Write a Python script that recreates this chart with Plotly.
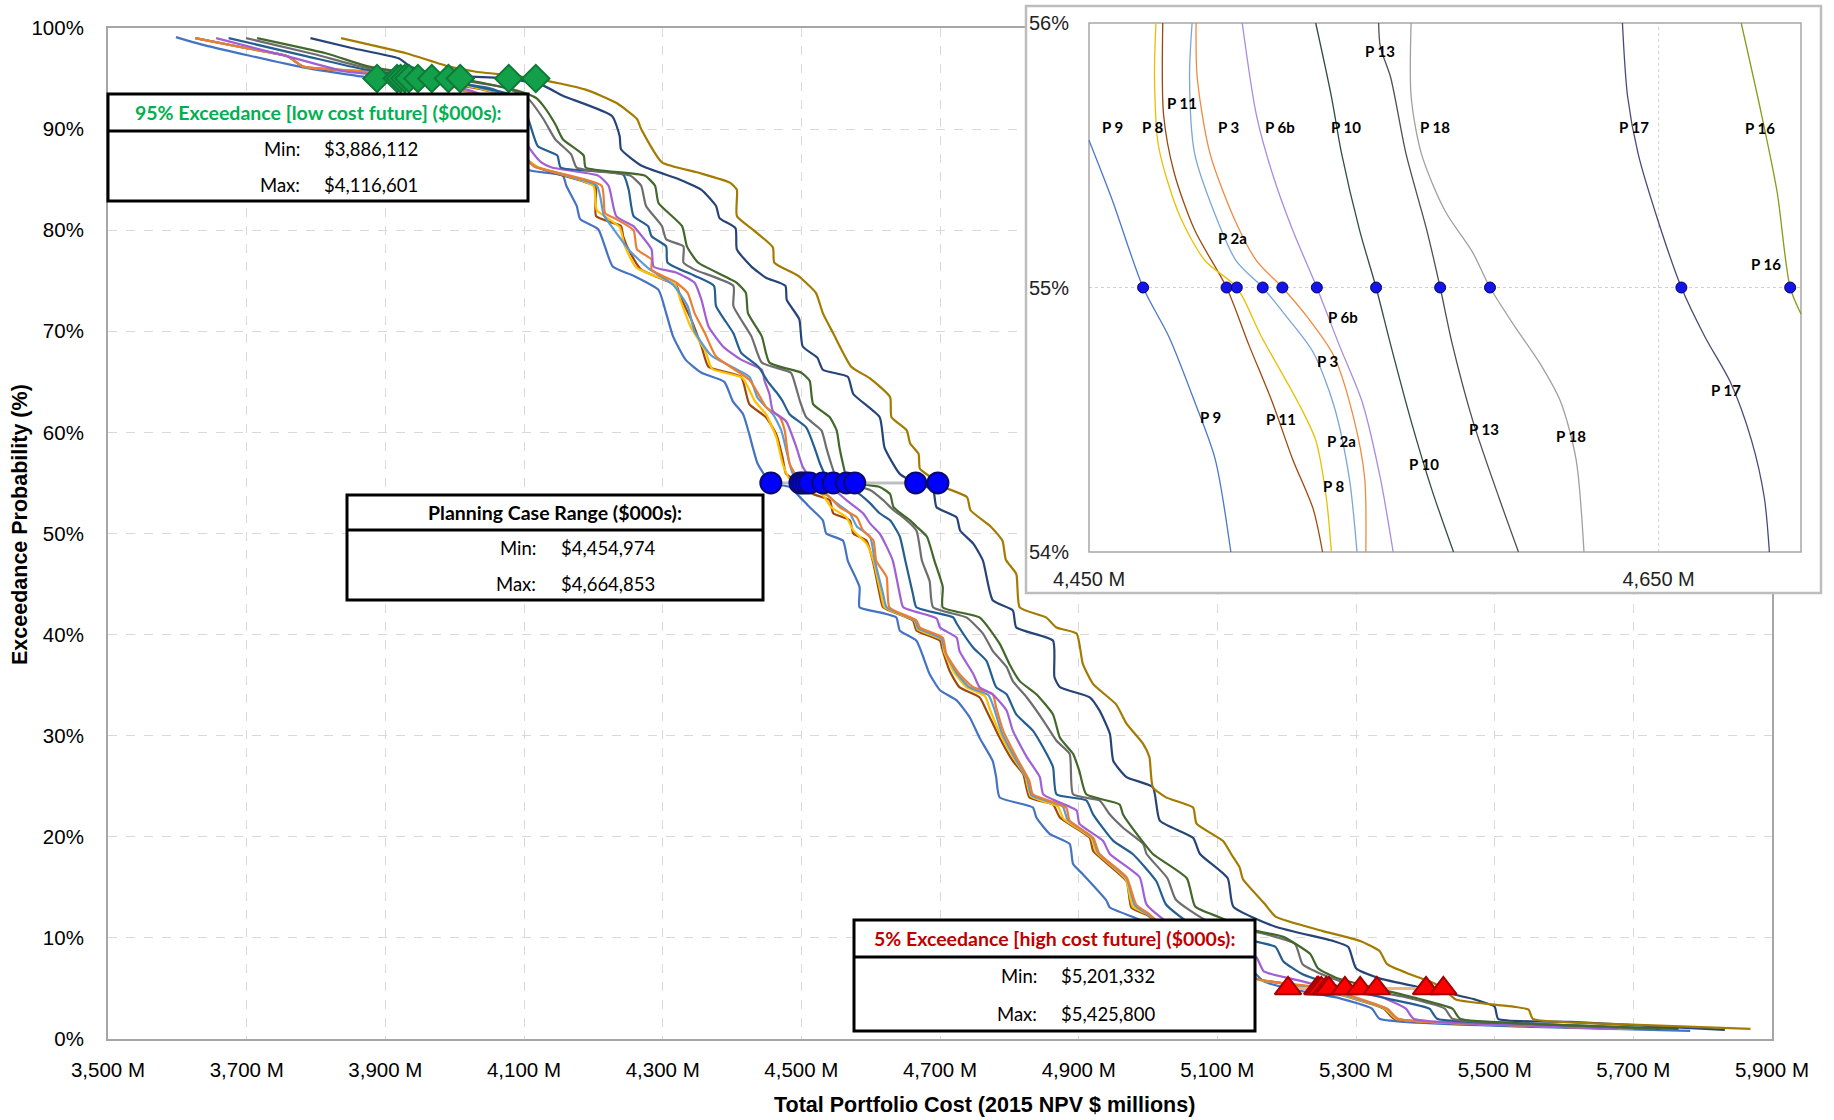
import plotly.graph_objects as go

# ------------------------------------------------------------------ data
plan_names = ["P 9", "P 11", "P 8", "P 2a", "P 3", "P 6b", "P 10", "P 13", "P 18", "P 17", "P 16"]
line_colors = ["#4472C4", "#9E480E", "#FFC000", "#5B9BD5", "#ED7D31", "#A05FD5",
               "#255E91", "#6E6E6E", "#43682B", "#264478", "#A37B00"]

# (total cost $M, exceedance probability %)
p9_curve = [(3598, 99.1), (3633, 98.4), (3781, 96.1), (3888, 95.0), (4018, 94.4), (4060, 93.8), (4100, 87.0),
            (4105, 86.0), (4156, 85.4), (4161, 84.4), (4176, 82.4), (4181, 81.1), (4207, 80.1), (4228, 76.4),
            (4258, 75.5), (4294, 74.1), (4305, 71.8), (4315, 69.5), (4333, 67.2), (4356, 65.9), (4389, 65.0),
            (4401, 63.1), (4416, 61.8), (4425, 59.8), (4430, 58.5), (4437, 56.9), (4456, 55.0), (4483, 54.6),
            (4498, 53.6), (4512, 52.6), (4531, 51.3), (4536, 50.0), (4560, 49.3), (4567, 47.3), (4584, 44.7),
            (4584, 42.7), (4613, 42.2), (4637, 41.7), (4642, 40.4), (4666, 39.4), (4685, 36.1), (4700, 34.5),
            (4724, 33.5), (4743, 31.8), (4757, 29.8), (4776, 27.5), (4781, 25.9), (4786, 23.9), (4834, 22.9),
            (4839, 21.9), (4858, 20.3), (4887, 19.3), (4892, 17.3), (4906, 16.3), (4940, 13.7), (4945, 13.0),
            (4988, 11.8), (5001, 11.1), (5057, 9.1), (5112, 7.7), (5151, 6.7), (5167, 5.7), (5202, 5.0),
            (5278, 4.0), (5323, 3.0), (5334, 2.0), (5555, 1.2), (5782, 0.8)]
p11_curve = [(3626, 99.0), (3700, 98.0), (3759, 97.2), (3781, 96.2), (3870, 95.6), (3917, 95.0), (3990, 94.5),
             (4060, 93.5), (4095, 90.0), (4105, 87.0), (4120, 86.2), (4202, 84.4), (4204, 84.0), (4204, 81.4),
             (4240, 80.4), (4243, 79.4), (4253, 77.8), (4269, 76.1), (4320, 74.5), (4325, 73.5), (4341, 71.2),
             (4356, 68.5), (4366, 66.5), (4413, 65.5), (4425, 62.8), (4449, 61.5), (4464, 59.8), (4473, 57.5),
             (4478, 55.9), (4498, 55.0), (4517, 53.9), (4541, 53.3), (4546, 52.0), (4570, 51.3), (4575, 50.0),
             (4594, 49.3), (4603, 47.3), (4613, 44.0), (4618, 42.7), (4661, 41.4), (4666, 40.4), (4700, 39.4),
             (4704, 38.4), (4714, 36.4), (4728, 34.8), (4757, 33.8), (4767, 32.5), (4786, 29.8), (4805, 27.5),
             (4820, 26.2), (4829, 23.9), (4863, 23.2), (4873, 21.9), (4916, 19.9), (4921, 18.6), (4969, 15.6),
             (4976, 13.0), (5000, 12.2), (5030, 10.5), (5095, 8.8), (5140, 7.5), (5150, 6.1), (5244, 5.0),
             (5340, 3.0), (5355, 2.0), (5555, 1.3), (5680, 1.0)]
p8_curve = [(3626, 99.0), (3700, 98.0), (3759, 97.2), (3781, 96.2), (3870, 95.7), (3922, 95.0), (3990, 94.6),
            (4060, 93.5), (4095, 90.0), (4105, 87.0), (4118, 86.3), (4200, 84.4), (4205, 82.0), (4238, 80.3),
            (4245, 78.5), (4262, 76.3), (4318, 74.6), (4326, 73.0), (4340, 70.5), (4362, 68.0), (4371, 66.3),
            (4415, 65.4), (4433, 63.1), (4449, 61.8), (4464, 59.5), (4473, 56.9), (4483, 55.4), (4502, 55.0),
            (4531, 53.8), (4543, 52.6), (4565, 51.6), (4575, 50.3), (4594, 49.0), (4604, 47.3), (4615, 44.0),
            (4620, 42.7), (4663, 41.4), (4668, 40.5), (4702, 39.5), (4706, 38.3), (4720, 36.3), (4738, 34.8),
            (4765, 33.9), (4772, 32.6), (4788, 30.0), (4807, 27.7), (4823, 26.0), (4831, 24.0), (4870, 23.0),
            (4878, 21.8), (4918, 19.9), (4925, 18.5), (4968, 15.8), (4978, 13.1), (5000, 12.3), (5032, 10.4),
            (5098, 8.7), (5143, 7.4), (5153, 6.0), (5246, 5.0), (5342, 3.0), (5358, 2.0), (5555, 1.3), (5690, 1.0)]
p2a_curve = [(3626, 99.0), (3700, 98.0), (3759, 97.2), (3781, 96.2), (3870, 95.7), (3928, 95.0), (3990, 94.7),
             (4060, 93.6), (4095, 90.0), (4105, 87.0), (4115, 86.3), (4205, 84.4), (4215, 81.5), (4225, 80.5),
             (4252, 78.0), (4280, 76.2), (4315, 74.6), (4336, 72.5), (4346, 70.0), (4370, 67.6), (4425, 65.5),
             (4437, 63.4), (4459, 61.8), (4471, 60.2), (4481, 57.5), (4488, 55.9), (4512, 55.0), (4536, 53.9),
             (4551, 53.0), (4570, 52.0), (4580, 50.7), (4599, 49.7), (4606, 47.3), (4618, 44.0), (4623, 42.7),
             (4664, 41.4), (4669, 40.6), (4702, 39.6), (4708, 38.2), (4724, 36.2), (4742, 34.8), (4770, 34.0),
             (4778, 32.7), (4789, 30.3), (4808, 27.8), (4826, 25.7), (4832, 24.1), (4877, 23.0), (4884, 21.7),
             (4920, 19.9), (4928, 18.4), (4969, 15.9), (4981, 13.2), (5001, 12.3), (5034, 10.4), (5100, 8.7),
             (5144, 7.4), (5155, 6.0), (5250, 5.0), (5344, 3.0), (5360, 2.0), (5555, 1.3), (5700, 1.0)]
p3_curve = [(3626, 99.0), (3700, 98.0), (3759, 97.2), (3781, 96.2), (3870, 95.7), (3934, 95.0), (3985, 94.8),
            (4007, 93.9), (4060, 93.0), (4095, 90.0), (4105, 87.0), (4115, 86.3), (4212, 84.4), (4217, 81.7),
            (4233, 81.1), (4258, 80.0), (4263, 78.1), (4284, 77.1), (4284, 76.1), (4320, 74.8), (4336, 73.8),
            (4346, 71.8), (4361, 69.8), (4377, 67.5), (4425, 65.2), (4443, 63.2), (4449, 62.5), (4469, 61.5),
            (4476, 60.2), (4483, 56.9), (4498, 55.2), (4507, 55.0), (4517, 54.6), (4541, 53.6), (4555, 52.6),
            (4580, 51.6), (4589, 50.3), (4604, 49.3), (4608, 47.3), (4623, 45.7), (4627, 42.7), (4666, 41.4),
            (4671, 40.7), (4704, 39.7), (4709, 38.1), (4728, 36.1), (4748, 34.8), (4776, 34.1), (4781, 32.8),
            (4791, 30.5), (4810, 27.9), (4829, 25.5), (4834, 24.2), (4882, 22.9), (4887, 21.6), (4921, 19.9),
            (4930, 18.3), (4969, 16.0), (4983, 13.3), (5001, 12.4), (5035, 10.4), (5101, 8.7), (5145, 7.4),
            (5156, 6.0), (5257, 5.0), (5345, 3.0), (5361, 2.0), (5555, 1.3), (5693, 1.0)]
p6b_curve = [(3656, 99.0), (3770, 97.0), (3842, 95.7), (3947, 95.0), (4018, 93.9), (4085, 92.0), (4100, 89.0),
             (4109, 88.0), (4125, 86.7), (4140, 86.2), (4207, 85.4), (4222, 84.4), (4233, 81.4), (4258, 80.4),
             (4263, 80.0), (4284, 78.1), (4287, 76.4), (4320, 75.8), (4346, 74.8), (4356, 73.1), (4366, 70.5),
             (4387, 68.5), (4413, 67.2), (4443, 66.2), (4447, 65.1), (4454, 63.8), (4459, 62.1), (4478, 61.1),
             (4493, 58.5), (4502, 56.6), (4517, 55.2), (4531, 55.0), (4555, 53.9), (4565, 53.3), (4589, 52.0),
             (4599, 51.0), (4613, 50.0), (4623, 48.7), (4632, 47.3), (4642, 44.0), (4647, 42.7), (4695, 41.6),
             (4700, 40.7), (4724, 39.7), (4728, 38.4), (4748, 36.1), (4757, 34.8), (4776, 34.1), (4796, 32.5),
             (4805, 30.5), (4825, 27.9), (4844, 25.9), (4849, 24.2), (4897, 22.6), (4901, 21.3), (4935, 19.6),
             (4945, 18.3), (4988, 16.0), (4998, 13.3), (5046, 10.7), (5112, 9.1), (5156, 8.1), (5167, 6.7),
             (5223, 5.7), (5261, 5.0), (5334, 4.2), (5372, 3.0), (5383, 2.0), (5555, 1.3), (5677, 1.0)]
p10_curve = [(3674, 99.0), (3787, 97.2), (3870, 95.9), (3967, 95.0), (4018, 94.4), (4084, 93.3), (4106, 91.0),
             (4120, 88.3), (4148, 87.4), (4153, 86.2), (4243, 85.5), (4251, 84.0), (4258, 81.4), (4279, 80.4),
             (4284, 79.4), (4305, 78.4), (4307, 76.8), (4346, 75.5), (4374, 74.5), (4377, 72.5), (4402, 69.8),
             (4413, 67.9), (4438, 66.5), (4452, 65.0), (4466, 63.8), (4473, 63.1), (4483, 61.8), (4507, 60.5),
             (4519, 58.5), (4527, 56.9), (4536, 55.6), (4546, 55.0), (4570, 54.5), (4584, 53.9), (4599, 53.0),
             (4613, 52.0), (4628, 51.3), (4642, 49.7), (4650, 47.3), (4661, 44.0), (4666, 42.7), (4719, 41.7),
             (4724, 41.1), (4748, 38.7), (4767, 37.4), (4781, 34.8), (4796, 34.1), (4810, 32.1), (4834, 30.5),
             (4849, 28.8), (4863, 26.9), (4868, 24.2), (4911, 23.6), (4921, 22.2), (4950, 19.6), (4978, 18.3),
             (5012, 15.6), (5026, 13.3), (5068, 11.1), (5151, 9.7), (5184, 9.1), (5195, 7.7), (5223, 6.4),
             (5284, 5.0), (5345, 4.0), (5406, 3.0), (5417, 2.0), (5555, 1.5), (5738, 1.0)]
p13_curve = [(3699, 99.0), (3798, 97.4), (3870, 96.1), (3991, 95.0), (4073, 94.1), (4106, 93.0), (4128, 91.0),
             (4145, 89.0), (4168, 87.5), (4176, 86.2), (4253, 85.4), (4269, 84.4), (4276, 82.4), (4299, 80.4),
             (4305, 79.1), (4330, 78.4), (4330, 76.8), (4346, 76.1), (4402, 74.5), (4402, 72.5), (4428, 69.5),
             (4443, 66.9), (4485, 65.9), (4490, 65.0), (4498, 63.1), (4507, 61.5), (4529, 60.2), (4536, 58.5),
             (4543, 56.9), (4550, 55.6), (4565, 55.0), (4599, 54.3), (4618, 53.3), (4633, 52.3), (4647, 51.6),
             (4666, 50.3), (4674, 47.3), (4685, 45.3), (4690, 42.7), (4738, 41.7), (4762, 40.1), (4776, 38.4),
             (4796, 36.8), (4805, 35.4), (4825, 33.8), (4849, 31.5), (4868, 29.5), (4887, 28.2), (4892, 24.2),
             (4930, 23.6), (4945, 22.2), (4964, 20.9), (4993, 19.3), (4998, 18.3), (5028, 15.9), (5040, 13.8),
             (5085, 11.7), (5156, 10.6), (5212, 9.4), (5223, 7.4), (5251, 6.4), (5306, 5.0), (5367, 4.2),
             (5428, 3.0), (5439, 2.0), (5555, 1.5), (5732, 1.0)]
p18_curve = [(3715, 99.0), (3814, 97.5), (3875, 96.2), (3919, 95.7), (4008, 95.0), (4090, 93.8), (4117, 93.1),
             (4128, 92.3), (4145, 90.5), (4156, 89.0), (4186, 87.4), (4189, 86.2), (4274, 85.4), (4289, 84.4),
             (4294, 82.7), (4328, 80.4), (4335, 78.4), (4351, 76.8), (4407, 74.8), (4420, 73.8), (4423, 71.8),
             (4443, 69.5), (4454, 66.9), (4500, 65.9), (4512, 65.1), (4517, 62.8), (4541, 61.5), (4551, 60.2),
             (4555, 58.5), (4560, 56.9), (4565, 55.6), (4577, 55.0), (4613, 54.6), (4628, 53.9), (4633, 52.6),
             (4657, 51.3), (4666, 50.7), (4681, 49.7), (4692, 47.3), (4704, 44.7), (4704, 42.7), (4757, 41.7),
             (4786, 39.1), (4800, 37.1), (4815, 35.4), (4839, 34.1), (4863, 32.1), (4873, 29.8), (4892, 28.2),
             (4901, 26.5), (4911, 24.2), (4959, 23.2), (4964, 22.2), (4988, 19.9), (5007, 18.3), (5056, 15.9),
             (5068, 13.1), (5101, 12.1), (5156, 10.7), (5195, 10.1), (5234, 8.4), (5245, 7.0), (5273, 6.0),
             (5330, 5.0), (5389, 4.0), (5439, 3.0), (5450, 2.0), (5555, 1.5), (5765, 1.0)]
p17_curve = [(3792, 99.0), (3853, 98.0), (3919, 97.0), (3936, 96.2), (3974, 95.4), (4078, 95.0), (4128, 94.3),
             (4156, 93.3), (4227, 91.3), (4238, 89.3), (4240, 88.0), (4269, 86.4), (4325, 85.0), (4356, 84.0),
             (4377, 82.4), (4382, 81.2), (4405, 80.2), (4407, 78.1), (4428, 76.4), (4449, 75.3), (4477, 74.5),
             (4479, 73.1), (4497, 71.2), (4502, 68.5), (4523, 67.4), (4531, 66.2), (4567, 65.5), (4575, 63.8),
             (4613, 61.5), (4620, 58.5), (4642, 55.9), (4665, 55.0), (4690, 54.3), (4695, 52.6), (4724, 51.6),
             (4729, 50.3), (4748, 49.0), (4762, 47.3), (4776, 43.4), (4805, 42.4), (4810, 40.7), (4863, 39.4),
             (4865, 35.8), (4873, 34.8), (4916, 33.8), (4930, 32.5), (4945, 30.2), (4950, 27.5), (4969, 25.9),
             (5007, 24.9), (5017, 21.6), (5065, 19.9), (5075, 18.3), (5115, 15.9), (5123, 13.1), (5184, 11.1),
             (5267, 9.7), (5289, 9.1), (5300, 7.0), (5334, 6.0), (5401, 5.0), (5472, 3.9), (5500, 3.2),
             (5505, 2.0), (5610, 1.7), (5832, 0.9)]
p16_curve = [(3836, 99.0), (3930, 97.5), (3991, 96.2), (4029, 95.7), (4117, 95.0), (4189, 93.9), (4233, 92.6),
             (4263, 91.0), (4269, 90.0), (4299, 86.7), (4351, 85.7), (4397, 84.7), (4407, 84.0), (4407, 81.4),
             (4431, 80.0), (4459, 78.3), (4461, 76.8), (4495, 75.5), (4521, 73.8), (4531, 71.8), (4546, 69.8),
             (4572, 66.5), (4600, 65.3), (4628, 63.5), (4630, 61.5), (4652, 60.2), (4657, 58.9), (4669, 57.9),
             (4671, 56.4), (4686, 55.6), (4697, 55.0), (4705, 54.6), (4739, 53.6), (4744, 52.3), (4773, 50.7),
             (4790, 49.3), (4795, 47.4), (4810, 46.0), (4815, 42.7), (4853, 41.7), (4868, 40.7), (4897, 40.1),
             (4906, 37.1), (4921, 35.1), (4954, 33.1), (4969, 31.2), (4993, 29.2), (5002, 27.9), (5007, 24.9),
             (5026, 23.9), (5065, 22.9), (5070, 21.3), (5108, 19.6), (5120, 18.3), (5132, 17.0), (5137, 15.8),
             (5168, 13.4), (5184, 12.1), (5251, 10.7), (5306, 9.7), (5334, 8.7), (5345, 7.4), (5378, 6.4),
             (5410, 5.6), (5426, 5.0), (5444, 3.9), (5527, 3.2), (5549, 2.9), (5555, 2.0), (5666, 1.5),
             (5869, 1.0)]
main_curves = [p9_curve, p11_curve, p8_curve, p2a_curve, p3_curve, p6b_curve,
               p10_curve, p13_curve, p18_curve, p17_curve, p16_curve]

# marker points (cost at 95 %, 55 %, 5 % exceedance), same plan order
low95_cost = [3888, 3917, 3922, 3928, 3934, 3947, 3967, 3991, 4008, 4078, 4117]
mid55_cost = [4456, 4498, 4502, 4512, 4507, 4531, 4546, 4565, 4577, 4665, 4697]
high5_cost = [5202, 5244, 5246, 5250, 5257, 5261, 5284, 5306, 5330, 5401, 5426]
low95_level, mid55_level, high5_level = 95, 55, 5

box_low = ["95% Exceedance [low cost future] ($000s):", "$3,886,112", "$4,116,601"]
box_mid = ["Planning Case Range ($000s):", "$4,454,974", "$4,664,853"]
box_high = ["5% Exceedance [high cost future] ($000s):", "$5,201,332", "$5,425,800"]

x_title = "Total Portfolio Cost (2015 NPV $ millions)"
y_title = "Exceedance Probability (%)"
x_ticks = [3500, 3700, 3900, 4100, 4300, 4500, 4700, 4900, 5100, 5300, 5500, 5700, 5900]
y_ticks = [0, 10, 20, 30, 40, 50, 60, 70, 80, 90, 100]

# inset (zoom on 54 %-56 %)
inset_colors = ["#4A78C8", "#9E480E", "#E8C000", "#7AA6D8", "#F08A40", "#A98BE0",
                "#2F4F3F", "#505050", "#A0A0A0", "#4A4A7A", "#8A9A1A"]
i_p9 = [(4450.0, 55.557), (4458.1, 55.333), (4469.0, 55.0), (4478.1, 54.813), (4487.1, 54.568),
        (4494.3, 54.351), (4499.8, 54.0)]
i_p11 = [(4475.9, 56.0), (4476.2, 55.651), (4479.9, 55.434), (4487.1, 55.217), (4498.3, 55.0),
         (4506.1, 54.784), (4514.3, 54.568), (4521.5, 54.351), (4528.7, 54.163), (4532.0, 54.0)]
i_p8 = [(4473.5, 56.0), (4473.0, 55.795), (4474.4, 55.535), (4481.7, 55.275), (4490.7, 55.102),
        (4501.9, 55.0), (4510.6, 54.813), (4523.3, 54.568), (4529.6, 54.423), (4533.3, 54.207), (4535.1, 54.0)]
i_p2a = [(4486.2, 56.0), (4485.3, 55.795), (4487.1, 55.506), (4494.3, 55.275), (4501.6, 55.102),
         (4511.0, 55.0), (4519.7, 54.885), (4528.7, 54.755), (4536.0, 54.553), (4541.4, 54.279), (4544.1, 54.0)]
i_p3 = [(4487.6, 56.0), (4488.0, 55.795), (4492.5, 55.506), (4501.6, 55.246), (4508.8, 55.102),
        (4517.9, 55.0), (4526.9, 54.885), (4536.0, 54.741), (4543.2, 54.495), (4546.8, 54.279), (4547.2, 54.0)]
i_p6b = [(4503.8, 56.0), (4508.8, 55.651), (4514.3, 55.434), (4521.5, 55.217), (4530.0, 55.0),
         (4537.8, 54.784), (4545.9, 54.568), (4552.3, 54.279), (4556.8, 54.0)]
i_p10 = [(4529.6, 56.0), (4535.1, 55.723), (4538.7, 55.506), (4545.0, 55.217), (4550.8, 55.0),
         (4555.9, 54.784), (4563.1, 54.495), (4570.4, 54.235), (4578.0, 54.0)]
i_p13 = [(4551.7, 56.0), (4552.3, 55.910), (4555.9, 55.795), (4561.3, 55.506), (4568.6, 55.217),
         (4573.3, 55.0), (4577.6, 54.784), (4584.8, 54.495), (4593.9, 54.207), (4600.8, 54.0)]
i_p18 = [(4563.1, 56.0), (4563.1, 55.723), (4566.7, 55.506), (4575.0, 55.290), (4584.8, 55.131),
         (4590.8, 55.0), (4599.3, 54.856), (4608.4, 54.712), (4615.6, 54.568), (4621.0, 54.351), (4623.8, 54.0)]
i_p17 = [(4637.3, 56.0), (4639.1, 55.723), (4642.8, 55.506), (4650.0, 55.246), (4658.0, 55.0),
         (4666.3, 54.813), (4675.3, 54.640), (4682.6, 54.423), (4687.1, 54.207), (4688.9, 54.0)]
i_p16 = [(4679.0, 56.0), (4686.2, 55.651), (4691.6, 55.362), (4696.2, 55.0), (4700.0, 54.90)]
inset_curves = [i_p9, i_p11, i_p8, i_p2a, i_p3, i_p6b, i_p10, i_p13, i_p18, i_p17, i_p16]
inset_dot55 = [4469.0, 4498.3, 4501.9, 4511.0, 4517.9, 4530.0, 4550.8, 4573.3, 4590.8, 4658.0, 4696.2]

inset_label_text = ["P 9", "P 8", "P 3", "P 6b", "P 10", "P 18", "P 17", "P 16", "P 11", "P 13", "P 2a",
                    "P 16", "P 6b", "P 3", "P 17", "P 9", "P 11", "P 2a", "P 13", "P 18", "P 10", "P 8"]
inset_label_cost = [4458.1, 4472.3, 4499.1, 4516.9, 4540.4, 4571.6, 4641.4, 4685.6, 4482.8, 4552.2, 4500.3,
                    4687.6, 4539.2, 4533.9, 4673.8, 4492.6, 4517.3, 4538.8, 4588.7, 4619.1, 4567.6, 4536.0]
inset_label_prob = [55.606, 55.606, 55.606, 55.606, 55.606, 55.606, 55.606, 55.602, 55.699, 55.894, 55.186,
                    55.088, 54.889, 54.721, 54.611, 54.509, 54.504, 54.420, 54.465, 54.438, 54.332, 54.248]
inset_x_ticks = [4450, 4650]
inset_y_ticks = [54, 55, 56]
inset_x_lo, inset_x_hi = 4450, 4700
inset_y_lo, inset_y_hi = 54, 56

# tick label texts derived from the tick values
x_tick_text = [f"{v:,} M" for v in x_ticks]
y_tick_text = [f"{v}%" for v in y_ticks]
inset_x_tick_text = [f"{v:,} M" for v in inset_x_ticks]
inset_y_tick_text = [f"{v}%" for v in inset_y_ticks]

# ------------------------------------------------------------------ layout geometry (pixels)
FIG_W, FIG_H = 1834, 1120
ML, MR, MT, MB = 108, 10, 5, 81
PW = FIG_W - ML - MR
PH = FIG_H - MT - MB


def px(x):
    return (x - ML) / PW


def py(y):
    return (FIG_H - MB - y) / PH


MAIN_R, MAIN_T = 1772, 28
IN_L, IN_R, IN_T, IN_B = 1026, 1821, 6, 593      # inset outer box
AP_L, AP_R, AP_T, AP_B = 1089, 1801, 23, 552     # inset plotting frame
kx = (AP_R - AP_L) / (inset_x_hi - inset_x_lo)
ky = (AP_B - AP_T) / (inset_y_hi - inset_y_lo)
x2range = [inset_x_lo - (AP_L - IN_L) / kx, inset_x_hi + (IN_R - AP_R) / kx]
y2range = [inset_y_lo - (IN_B - AP_B) / ky, inset_y_hi + (AP_T - IN_T) / ky]

FONT_AX = "Liberation Sans, Arial, sans-serif"
FONT_BOX = "Lato, Open Sans, sans-serif"

fig = go.Figure()

# main curves
for name, curve, col in zip(plan_names, main_curves, line_colors):
    fig.add_trace(go.Scatter(
        x=[c for c, p in curve], y=[p for c, p in curve], mode="lines", name=name,
        line=dict(color=col, width=2.2, shape="spline", smoothing=0.5),
        xaxis="x", yaxis="y", hoverinfo="skip"))

# marker series
fig.add_trace(go.Scatter(
    x=low95_cost, y=[low95_level] * len(low95_cost), mode="markers",
    marker=dict(symbol="diamond", size=21, color="#12A14A", line=dict(color="#0E7A37", width=2)),
    xaxis="x", yaxis="y", hoverinfo="skip"))
mid_sorted = sorted(mid55_cost)
fig.add_trace(go.Scatter(
    x=mid_sorted, y=[mid55_level] * len(mid_sorted), mode="lines+markers",
    line=dict(color="#BFBFBF", width=3),
    marker=dict(symbol="circle", size=21, color="#0000FF", line=dict(color="#0A0A6E", width=2)),
    xaxis="x", yaxis="y", hoverinfo="skip"))
high_sorted = sorted(high5_cost)
fig.add_trace(go.Scatter(
    x=high_sorted, y=[high5_level] * len(high_sorted), mode="lines+markers",
    line=dict(color="#F4B183", width=3),
    marker=dict(symbol="triangle-up", size=23, color="#FF0000", line=dict(color="#A50000", width=2)),
    xaxis="x", yaxis="y", hoverinfo="skip"))

# inset curves
for name, curve, col in zip(plan_names, inset_curves, inset_colors):
    fig.add_trace(go.Scatter(
        x=[c for c, p in curve], y=[p for c, p in curve], mode="lines",
        line=dict(color=col, width=1.3, shape="spline", smoothing=0.8),
        xaxis="x2", yaxis="y2", hoverinfo="skip"))
fig.add_trace(go.Scatter(
    x=inset_dot55, y=[mid55_level] * len(inset_dot55), mode="markers",
    marker=dict(size=11, color="#1414E6", line=dict(color="#00006E", width=1)),
    xaxis="x2", yaxis="y2", hoverinfo="skip"))

shapes = []
# inset background & frame
shapes.append(dict(type="rect", xref="x2", yref="y2", layer="below",
                   x0=x2range[0], x1=x2range[1], y0=y2range[0], y1=y2range[1],
                   fillcolor="white", line=dict(width=0)))
shapes.append(dict(type="line", xref="x2", yref="y2", layer="below",
                   x0=inset_x_lo, x1=inset_x_hi, y0=inset_y_ticks[1], y1=inset_y_ticks[1],
                   line=dict(color="#D0D0D0", width=1, dash="dot")))
shapes.append(dict(type="line", xref="x2", yref="y2", layer="below",
                   x0=inset_x_ticks[1], x1=inset_x_ticks[1], y0=inset_y_lo, y1=inset_y_hi,
                   line=dict(color="#D0D0D0", width=1, dash="dot")))
shapes.append(dict(type="rect", xref="x2", yref="y2", layer="below",
                   x0=inset_x_lo, x1=inset_x_hi, y0=inset_y_lo, y1=inset_y_hi,
                   line=dict(color="#A6A6A6", width=1.5), fillcolor="rgba(0,0,0,0)"))
shapes.append(dict(type="rect", xref="paper", yref="paper", layer="above",
                   x0=px(IN_L), x1=px(IN_R), y0=py(IN_B), y1=py(IN_T),
                   line=dict(color="#BDBDBD", width=2.5), fillcolor="rgba(0,0,0,0)"))

annotations = []


def add_box(x0, x1, top, mid, bottom, lab_r, val_l, texts, head_color):
    shapes.append(dict(type="rect", xref="paper", yref="paper", layer="above",
                       x0=px(x0), x1=px(x1), y0=py(bottom), y1=py(top),
                       fillcolor="white", line=dict(color="black", width=3)))
    shapes.append(dict(type="line", xref="paper", yref="paper", layer="above",
                       x0=px(x0), x1=px(x1), y0=py(mid), y1=py(mid),
                       line=dict(color="black", width=3)))
    annotations.append(dict(xref="paper", yref="paper", x=px((x0 + x1) / 2), y=py((top + mid) / 2),
                            text="<b>" + texts[0] + "</b>", showarrow=False,
                            font=dict(family=FONT_BOX, size=19.5, color=head_color),
                            xanchor="center", yanchor="middle"))
    rows = [mid + (bottom - mid) * 0.26, mid + (bottom - mid) * 0.77]
    for lab, val, yy in zip(["Min:", "Max:"], texts[1:], rows):
        annotations.append(dict(xref="paper", yref="paper", x=px(lab_r), y=py(yy), text=lab,
                                showarrow=False, font=dict(family=FONT_BOX, size=18.5, color="black"),
                                xanchor="right", yanchor="middle"))
        annotations.append(dict(xref="paper", yref="paper", x=px(val_l), y=py(yy), text=val,
                                showarrow=False, font=dict(family=FONT_BOX, size=18.5, color="black"),
                                xanchor="left", yanchor="middle"))


add_box(108, 528, 94, 131, 201, 302, 322, box_low, "#00B050")
add_box(347, 763, 495, 530, 600, 538, 559, box_mid, "black")
add_box(854, 1255, 920, 957, 1031, 1039, 1059, box_high, "#C00000")

for t, xv, yv in zip(inset_label_text, inset_label_cost, inset_label_prob):
    annotations.append(dict(xref="x2", yref="y2", x=xv, y=yv, text="<b>" + t + "</b>", showarrow=False,
                            font=dict(family=FONT_BOX, size=15, color="black"),
                            xanchor="center", yanchor="middle"))

# axis titles (placed as in the reference, slightly off-centre)
annotations.append(dict(xref="paper", yref="paper", x=px(984), y=py(1105), text="<b>" + x_title + "</b>",
                        showarrow=False, font=dict(family=FONT_AX, size=21.5, color="black"),
                        xanchor="center", yanchor="middle"))
annotations.append(dict(xref="paper", yref="paper", x=px(20), y=py(525), text="<b>" + y_title + "</b>",
                        showarrow=False, textangle=-90, font=dict(family=FONT_AX, size=21.5, color="black"),
                        xanchor="center", yanchor="middle"))

fig.update_layout(
    width=FIG_W, height=FIG_H,
    margin=dict(l=ML, r=MR, t=MT, b=MB, autoexpand=False),
    paper_bgcolor="white", plot_bgcolor="white",
    showlegend=False,
    shapes=shapes, annotations=annotations,
    xaxis=dict(domain=[0, px(MAIN_R)], range=[3500, 5900], tickmode="array",
               tickvals=x_ticks, ticktext=x_tick_text, automargin=False,
               showgrid=True, gridcolor="#D9D9D9", griddash="dash", gridwidth=1,
               showline=True, linecolor="#A6A6A6", linewidth=2, mirror=True, zeroline=False,
               ticks="outside", ticklen=11, tickcolor="rgba(0,0,0,0)",
               tickfont=dict(family=FONT_AX, size=20.5, color="black"),
               anchor="y"),
    yaxis=dict(domain=[0, py(MAIN_T)], range=[0, 100], tickmode="array",
               tickvals=y_ticks, ticktext=y_tick_text, automargin=False,
               showgrid=True, gridcolor="#D9D9D9", griddash="dash", gridwidth=1,
               showline=True, linecolor="#A6A6A6", linewidth=2, mirror=True, zeroline=False,
               ticks="outside", ticklen=18, tickcolor="rgba(0,0,0,0)",
               tickfont=dict(family=FONT_AX, size=20.5, color="black"),
               anchor="x"),
    xaxis2=dict(domain=[px(IN_L), px(IN_R)], range=x2range, tickmode="array",
                tickvals=inset_x_ticks, ticktext=inset_x_tick_text, ticklabelposition="inside",
                automargin=False,
                showgrid=False, showline=False, zeroline=False, ticks="",
                tickfont=dict(family=FONT_AX, size=20, color="#222222"), anchor="y2"),
    yaxis2=dict(domain=[py(IN_B), py(IN_T)], range=y2range, tickmode="array",
                tickvals=inset_y_ticks, ticktext=inset_y_tick_text, ticklabelposition="inside",
                automargin=False,
                showgrid=False, showline=False, zeroline=False, ticks="",
                tickfont=dict(family=FONT_AX, size=20, color="#222222"), anchor="x2"),
)

fig.write_html("out.html")
